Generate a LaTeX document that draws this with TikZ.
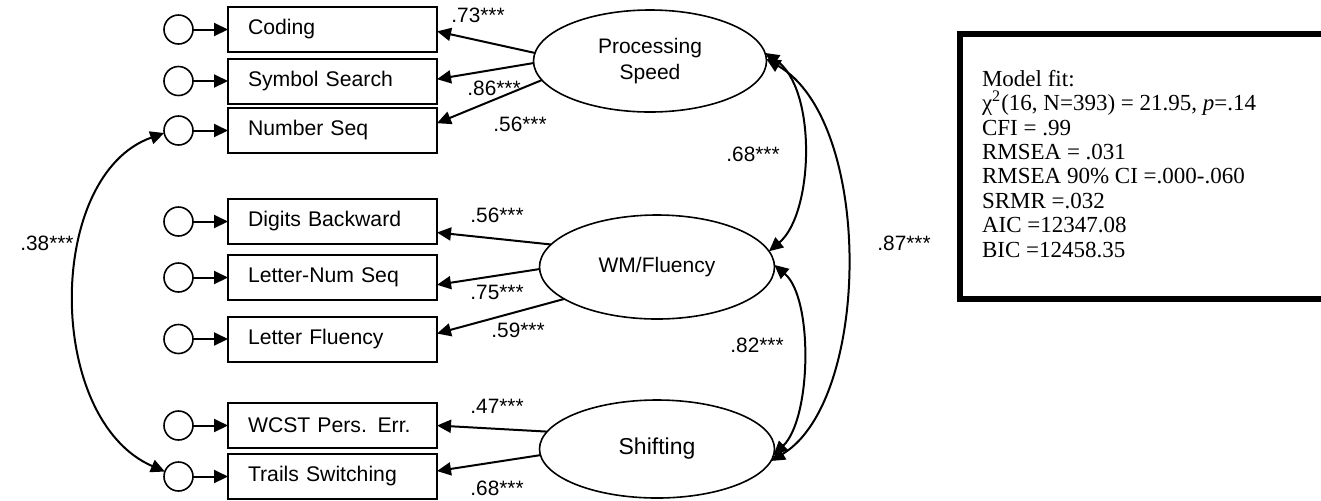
\documentclass[tikz,border=0pt]{standalone}
\usepackage{fontspec}
\setmainfont{Liberation Serif}
\newfontfamily\arialfont{Liberation Sans}
\usetikzlibrary{arrows.meta,shapes.geometric}

\begin{document}
\begin{tikzpicture}[x=0.5pt,y=-0.5pt,
  every node/.style={inner sep=0pt, outer sep=0pt},
  tip/.style={-{Triangle[length=7pt,width=6.5pt]}},
  twotip/.style={{Triangle[length=7pt,width=6.5pt]}-{Triangle[length=7pt,width=6.5pt]}},
  obs/.style={draw, line width=1pt, minimum height=22.5pt, text width=84.5pt,
    inner xsep=10pt, align=left, font=\arialfont\fontsize{10.6}{12}\selectfont},
  err/.style={draw, circle, line width=0.8pt, minimum size=14.5pt},
  lat/.style={draw, ellipse, line width=0.8pt, align=center,
    font=\arialfont\fontsize{10.5}{13}\selectfont},
  load/.style={line width=1pt, tip},
  resid/.style={line width=1pt, tip},
  cov/.style={line width=1pt, twotip},
  coef/.style={font=\arialfont\fontsize{10.4}{12}\selectfont}
]
\useasboundingbox (0,0) rectangle (1321,500);

% observed indicators
\node[obs] (cod) at (332.5,29.5)  {Coding};
\node[obs] (sym) at (332.5,81)    {Symbol Search};
\node[obs] (nsq) at (332.5,130.5) {Number Seq};
\node[obs] (dbw) at (332.5,221.5) {Digits Backward};
\node[obs] (lns) at (332.5,277.5) {Letter-Num Seq};
\node[obs] (lfl) at (332.5,339)   {Letter Fluency};
\node[obs] (wcs) at (332.5,425.5) {WCST Pers. Err.};
\node[obs] (trs) at (332.5,476.5) {Trails Switching};

% residual terms
\foreach \n in {cod,sym,nsq,dbw,lns,lfl,wcs,trs}{
  \node[err] (e\n) at (178.5,0 |- \n) {};
  \draw[resid] (e\n.east) -- (\n.west);
}

% latent factors
\node[lat, minimum width=116.5pt, minimum height=51pt] (ps) at (650,61)  {Processing\\Speed};
\node[lat, minimum width=117.5pt, minimum height=52pt] (wm) at (657,267) {WM/Fluency};
\node[lat, minimum width=117.5pt, minimum height=49pt,
      font=\arialfont\fontsize{11.5}{13}\selectfont] (sh) at (657,449) {Shifting};

% factor loadings
\draw[load] (ps.176) -- (cod.-1.4);
\draw[load] (ps.181) -- (sym.1.6);
\draw[load] (ps.190) -- (nsq.4.1);
\draw[load] (wm.168) -- (dbw.-6.3);
\draw[load] (wm.181) -- (lns.-4.6);
\draw[load] (wm.199) -- (lfl.3.3);
\draw[load] (sh.171) -- (wcs.0);
\draw[load] (sh.183) -- (trs.3.6);

\node[coef] at (478,15)  {.73***};
\node[coef] at (494,88)  {.86***};
\node[coef] at (520,124) {.56***};
\node[coef] at (497,215) {.56***};
\node[coef] at (497,292) {.75***};
\node[coef] at (518,330) {.59***};
\node[coef] at (497,406) {.47***};
\node[coef] at (497,488) {.68***};

% factor covariances
\draw[cov] (ps.4) .. controls +(52,35) and +(45,-38) .. (wm.8);
\draw[cov] (wm.1) .. controls +(39,33) and +(38,-37) .. (sh.-3);
\draw[cov] (ps.1) .. controls +(108,63) and +(100,-60) .. (sh.-6);
\node[coef] at (753,154) {.68***};
\node[coef] at (757,345) {.82***};
\node[coef] at (904,243) {.87***};

% residual covariance
\draw[cov] (ensq.190) .. controls +(-119,42) and +(-120,-52) .. (etrs.160);
\node[coef] at (47,243) {.38***};

% model fit summary
\begin{scope}
\clip (0,0) rectangle (1321,500);
\draw[line width=2.6pt] (960,34) rectangle (1360,299);
\end{scope}
\node[anchor=north west, align=left, font=\fontsize{11.5}{12.2}\selectfont] (fit) at (982,70)
  {Model fit:\\
   χ\textsuperscript{2}(16, N=393) = 21.95, \textit{p}=.14\\
   CFI = .99\\
   RMSEA = .031\\
   RMSEA 90\% CI =.000-.060\\
   SRMR =.032\\
   AIC =12347.08\\
   BIC =12458.35};
\end{tikzpicture}
\end{document}
